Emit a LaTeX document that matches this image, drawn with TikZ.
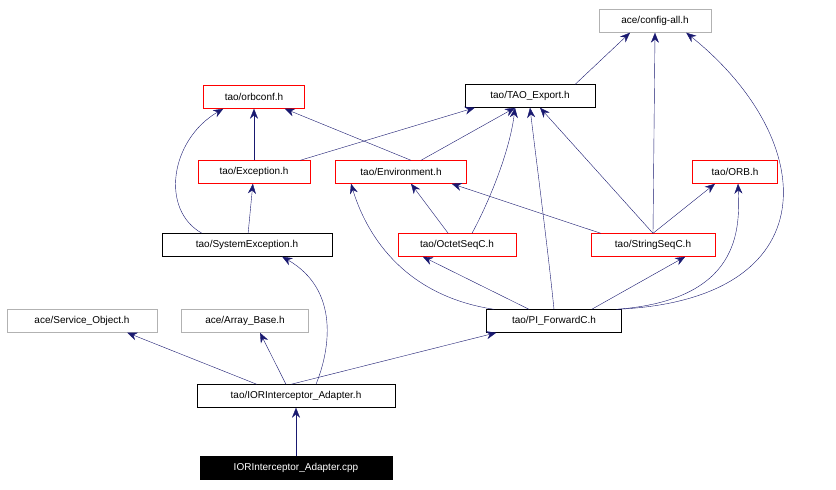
\documentclass[tikz,border=0pt]{standalone}
\usepackage{fontspec}
\setmainfont{Liberation Sans}
\usetikzlibrary{arrows.meta}
\definecolor{navy}{HTML}{191970}
\begin{document}
\begin{tikzpicture}[x=1pt,y=-1pt,
 n/.style={draw,rectangle,minimum height=23pt,inner xsep=2pt,font=\fontsize{10}{12}\selectfont},
 blk/.style={n,draw=black},
 red/.style={n,draw=red},
 gry/.style={n,draw=gray!60},
 e/.style={draw=navy,-{Stealth[length=10pt,width=8pt,fill=navy]}}]
\useasboundingbox (0,0) rectangle (836,490);
\node[gry,minimum width=112pt] (cfg) at (655,21) {ace/config-all.h};
\node[blk,minimum width=130pt] (exp) at (530,96) {tao/TAO\_Export.h};
\node[red,minimum width=101pt] (orbc) at (254,97) {tao/orbconf.h};
\node[red,minimum width=112pt] (exc) at (254,172) {tao/Exception.h};
\node[red,minimum width=131pt] (env) at (401,172) {tao/Environment.h};
\node[red,minimum width=85pt] (orb) at (735,172) {tao/ORB.h};
\node[blk,minimum width=170pt] (sys) at (247,245) {tao/SystemException.h};
\node[red,minimum width=118pt] (oct) at (457,245) {tao/OctetSeqC.h};
\node[red,minimum width=124pt] (str) at (653,245) {tao/StringSeqC.h};
\node[gry,minimum width=150pt] (svc) at (82,321) {ace/Service\_Object.h};
\node[gry,minimum width=127pt] (arr) at (245,321) {ace/Array\_Base.h};
\node[blk,minimum width=135pt] (pi) at (554,321) {tao/PI\_ForwardC.h};
\node[blk,minimum width=198pt] (ad) at (296,396) {tao/IORInterceptor\_Adapter.h};
\node[n,minimum width=192pt,fill=black,text=white] (cpp) at (296,468) {IORInterceptor\_Adapter.cpp};
\path[e] (cpp) -- (ad);
\path[e] ([xshift=60pt]ad.north west) -- ([xshift=-30pt]svc.south east);
\path[e] ([xshift=-10pt]ad.north) -- ([xshift=15pt]arr.south);
\path[e] ([xshift=20pt]ad.north) .. controls (330,350) and (340,290) .. ([xshift=-50pt]sys.south east);
\path[e] ([xshift=-5pt]ad.north) -- ([xshift=10pt]pi.south west);
\path[e] (sys) -- (exc);
\path[e] ([xshift=-45pt]sys.north) .. controls (160,210) and (170,140) .. ([xshift=20pt]orbc.south west);
\path[e] (exc) -- (orbc);
\path[e] ([xshift=-10pt]exc.north east) -- ([xshift=10pt]exp.south west);
\path[e] ([xshift=10pt]env.north) -- ([xshift=-20pt]orbc.south east);
\path[e] ([xshift=20pt]env.north) -- ([xshift=-15pt]exp.south);
\path[e] (oct) -- ([xshift=10pt]env.south);
\path[e] ([xshift=15pt]oct.north) .. controls (490,200) and (510,150) .. ([xshift=-15pt]exp.south);
\path[e] ([xshift=10pt]str.north west) -- ([xshift=-15pt]env.south east);
\path[e] (str.north) -- ([xshift=10pt]exp.south);
\path[e] (str.north) -- (cfg.south);
\path[e] (str.north) -- ([xshift=-20pt]orb.south);
\path[e] ([xshift=-20pt]exp.north east) -- ([xshift=-25pt]cfg.south);
\path[e] ([xshift=-60pt]pi.north) .. controls (400,295) and (365,230) .. ([xshift=-50pt]env.south);
\path[e] ([xshift=-25pt]pi.north) -- ([xshift=25pt]oct.south west);
\path[e] (pi.north) .. controls (548,250) and (535,150) .. (exp.south);
\path[e] ([xshift=-30pt]pi.north east) -- ([xshift=-30pt]str.south east);
\path[e] ([xshift=-5pt]pi.north east) .. controls (740,300) and (740,230) .. ([xshift=3pt]orb.south);
\path[e] ([xshift=-5pt]pi.north east) .. controls (830,300) and (820,140) .. ([xshift=-25pt]cfg.south east);
\end{tikzpicture}
\end{document}
